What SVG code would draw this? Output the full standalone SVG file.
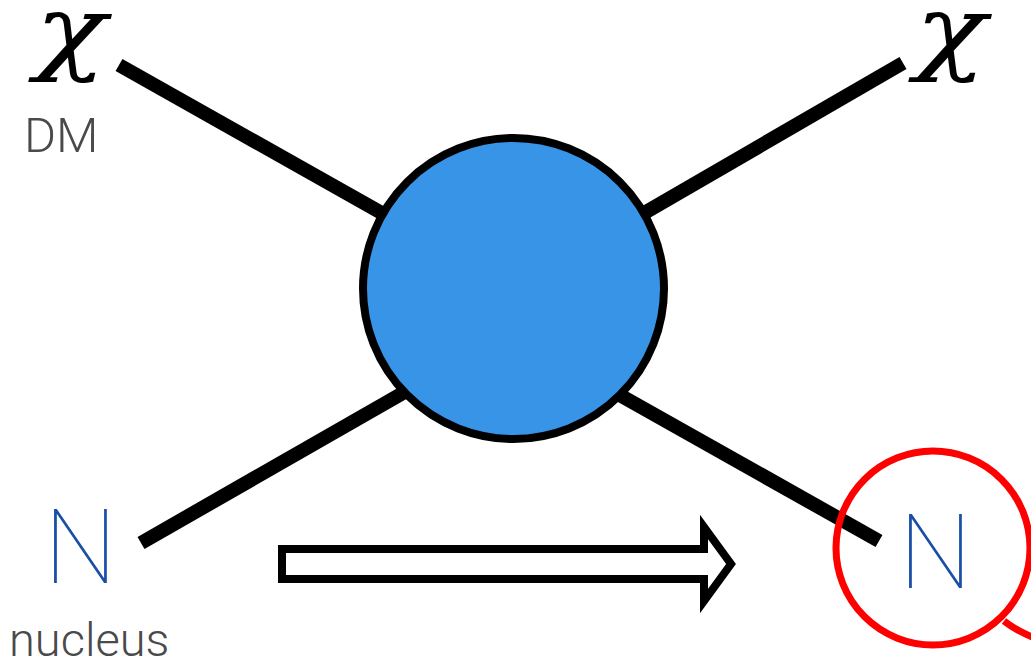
<svg xmlns="http://www.w3.org/2000/svg" width="1031" height="658" viewBox="0 0 1031 658">
<style>
.leg{stroke:#000;stroke-width:14;stroke-linecap:butt;fill:none}
.chi{font-family:"DejaVu Serif",serif;font-style:italic;font-size:94px;fill:#000}
.lbl{font-family:Roboto,"Liberation Sans",sans-serif;font-weight:300;fill:#4a4a4a}
.nuc{font-family:Roboto,"Liberation Sans",sans-serif;font-weight:100;font-size:103px;fill:#1a4fa8}
</style>
<rect width="1031" height="658" fill="#fff"/>
<g id="connectors">
<line class="leg" x1="119" y1="65" x2="513" y2="287"/>
<line class="leg" x1="903" y1="63" x2="513" y2="289"/>
<line class="leg" x1="141" y1="543" x2="513" y2="330"/>
<line class="leg" x1="879" y1="541" x2="513" y2="335"/>
</g>
<g id="vertex">
<circle cx="513.5" cy="288.5" r="150.5" fill="#3894e6" stroke="#000" stroke-width="8"/>
</g>
<g id="chi-in">
<text class="chi" transform="translate(35,63) scale(1.25,1)">χ</text>
<text class="lbl" x="24" y="152" font-size="49">DM</text>
</g>
<g id="chi-out">
<text class="chi" transform="translate(915,63) scale(1.25,1)">χ</text>
</g>
<g id="n-in">
<text class="nuc" x="44" y="583">N</text>
<text class="lbl" x="9" y="656" font-size="47">nucleus</text>
</g>
<g id="n-out">
<text class="nuc" x="899" y="588">N</text>
<circle cx="933" cy="548" r="97" fill="none" stroke="#ff0000" stroke-width="7"/>
<path d="M1004 621 Q1018 632 1040 640" fill="none" stroke="#ff0000" stroke-width="7"/>
</g>
<g id="arrow">
<polygon points="282,549 704,549 704,527 731,564 704,601 704,579 282,579" fill="#fff" stroke="#000" stroke-width="8" stroke-linejoin="miter"/>
</g>
</svg>
